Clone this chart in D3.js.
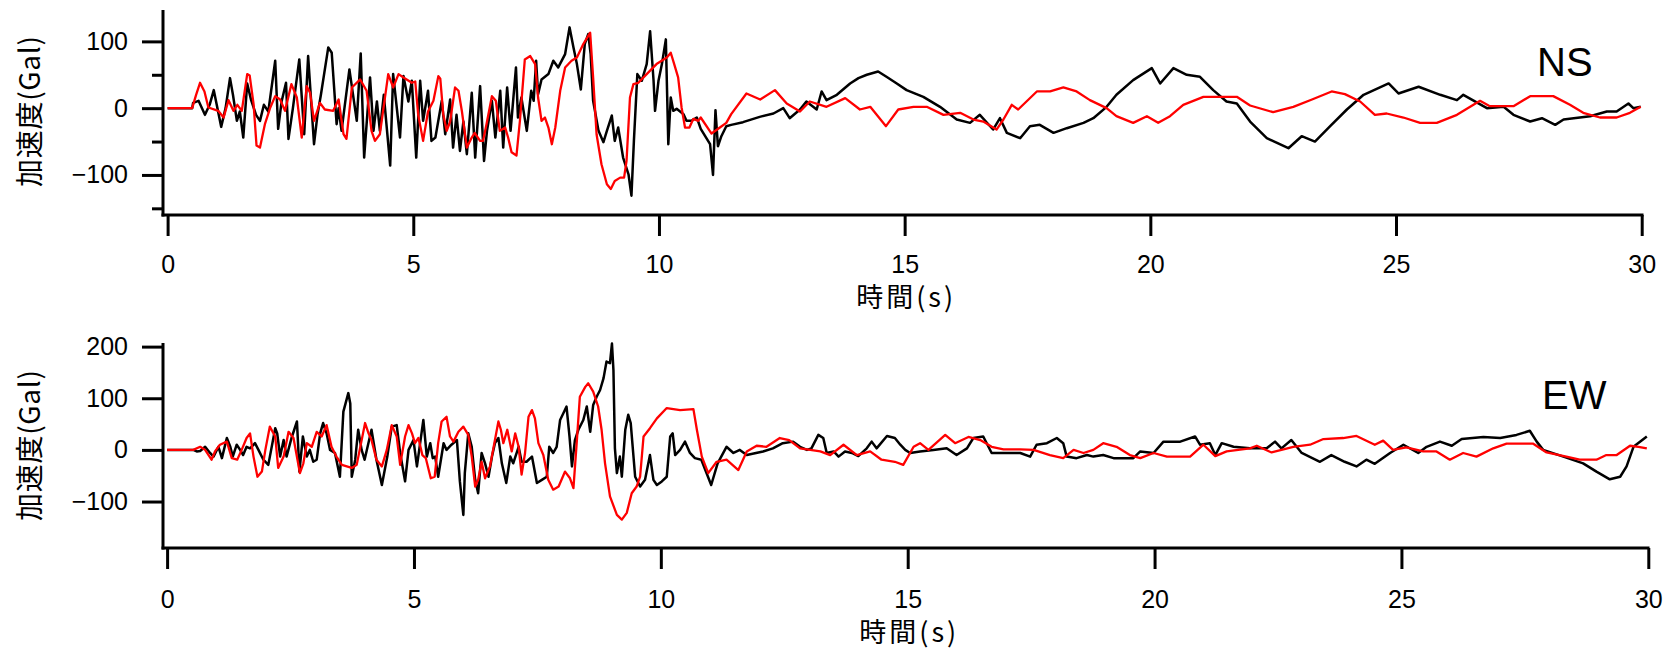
<!DOCTYPE html>
<html lang="ja">
<head>
<meta charset="utf-8">
<title>加速度波形 NS / EW</title>
<script src="https://d3js.org/d3.v7.min.js"></script>
<style>
  body { margin: 0; background: #fff; }
  .tick text { font-family: "Liberation Sans", Arial, sans-serif; font-size: 25px; fill: #000; }
  .jp { font-family: "Noto Sans CJK JP", sans-serif; fill: #000; }
  .comp { font-family: "Liberation Sans", Arial, sans-serif; font-size: 40px; fill: #000; }
</style>
</head>
<body>
<svg width="1670" height="649"></svg>
<script>
// time (s), acceleration (Gal)
const nsBlack = [[0,0],[0.5,0],[0.52,8],[0.63,11],[0.76,-10],[0.86,6],[0.94,27],[1.0,5],[1.09,-28],[1.18,0],[1.27,45],[1.33,20],[1.41,-19],[1.47,-5],[1.54,-44],[1.62,37],[1.7,12],[1.8,-10],[1.88,-19],[1.96,5],[2.05,-5],[2.19,71],[2.25,-31],[2.32,10],[2.41,38],[2.46,-46],[2.55,0],[2.68,73],[2.78,-39],[2.86,78],[2.98,-54],[3.05,-10],[3.12,20],[3.27,91],[3.34,83],[3.44,-24],[3.48,0],[3.54,-34],[3.7,58],[3.85,-19],[3.93,82],[4.0,-74],[4.12,46],[4.19,-34],[4.26,10],[4.32,-34],[4.4,20],[4.53,-86],[4.59,51],[4.73,-44],[4.8,48],[4.9,10],[4.97,41],[5.06,-74],[5.14,41],[5.2,-19],[5.3,26],[5.37,-49],[5.45,-44],[5.58,11],[5.65,-39],[5.75,13],[5.81,-59],[5.88,-10],[5.95,-64],[6.02,-20],[6.09,-69],[6.19,23],[6.26,-74],[6.36,33],[6.44,-79],[6.5,-34],[6.6,11],[6.67,-44],[6.77,26],[6.83,-59],[6.91,31],[6.98,-34],[7.09,61],[7.13,-14],[7.2,16],[7.31,-34],[7.4,26],[7.45,11],[7.5,71],[7.54,21],[7.61,43],[7.75,51],[7.85,71],[7.95,61],[8.09,81],[8.18,121],[8.26,91],[8.33,66],[8.41,28],[8.49,96],[8.56,111],[8.61,81],[8.66,11],[8.77,-34],[8.87,-51],[8.94,-34],[9.04,-11],[9.1,-49],[9.17,-29],[9.27,-74],[9.38,-99],[9.44,-131],[9.49,-49],[9.56,51],[9.65,41],[9.75,66],[9.82,115],[9.89,41],[9.92,-4],[9.99,41],[10.06,66],[10.14,103],[10.19,-54],[10.24,16],[10.29,-4],[10.36,-1],[10.5,-9],[10.56,-19],[10.66,-19],[10.77,-14],[10.85,-31],[11.04,-54],[11.1,-100],[11.15,-3],[11.2,-57],[11.27,-42],[11.37,-27],[11.47,-25],[11.71,-21],[12.05,-13],[12.33,-8],[12.53,0],[12.66,-15],[12.87,-2],[13.0,10],[13.21,-2],[13.31,25],[13.41,12],[13.62,20],[13.89,37],[14.06,45],[14.23,50],[14.46,55],[14.63,47],[14.84,37],[15.04,27],[15.38,17],[15.72,2],[16.06,-17],[16.33,-22],[16.53,-10],[16.8,-32],[16.94,-15],[17.08,-37],[17.35,-45],[17.55,-27],[17.75,-25],[18.03,-37],[18.3,-30],[18.64,-22],[18.84,-15],[19.11,2],[19.31,20],[19.65,42],[20.03,60],[20.2,37],[20.47,60],[20.74,50],[21.01,47],[21.28,27],[21.55,10],[21.76,7],[22.03,-20],[22.37,-45],[22.81,-60],[23.08,-42],[23.35,-50],[23.66,-27],[24.0,-2],[24.34,20],[24.85,37],[25.05,22],[25.46,32],[25.9,20],[26.24,12],[26.37,20],[26.85,0],[27.19,2],[27.39,-10],[27.73,-20],[27.97,-15],[28.24,-25],[28.41,-17],[28.95,-12],[29.29,-5],[29.49,-5],[29.73,7],[29.83,0],[29.98,2]];

const nsRed = [[0,0],[0.5,0],[0.58,20],[0.66,38],[0.75,25],[0.83,1],[1.03,-4],[1.14,-14],[1.24,12],[1.34,-4],[1.42,5],[1.51,-4],[1.62,51],[1.67,49],[1.75,6],[1.81,-56],[1.88,-59],[1.98,-24],[2.09,1],[2.19,18],[2.29,13],[2.39,-4],[2.52,36],[2.63,16],[2.73,-44],[2.83,33],[2.9,23],[2.98,-19],[3.1,8],[3.2,-2],[3.37,-4],[3.48,13],[3.58,-39],[3.64,-46],[3.75,31],[3.92,43],[4.05,26],[4.15,-34],[4.22,-49],[4.32,-39],[4.49,51],[4.59,31],[4.7,51],[4.8,46],[4.97,38],[5.04,40],[5.1,-10],[5.2,-49],[5.3,-5],[5.41,11],[5.51,48],[5.55,44],[5.61,-9],[5.68,-34],[5.75,-20],[5.85,31],[5.92,26],[5.99,-5],[6.09,-59],[6.19,-44],[6.25,-37],[6.36,-49],[6.42,-49],[6.49,-24],[6.6,18],[6.68,11],[6.76,-34],[6.87,-29],[6.93,-44],[7.0,-66],[7.1,-71],[7.17,-19],[7.27,73],[7.38,78],[7.48,66],[7.54,16],[7.61,-19],[7.68,-14],[7.75,-29],[7.82,-54],[7.89,-29],[7.99,26],[8.09,61],[8.22,71],[8.33,76],[8.46,96],[8.6,113],[8.66,46],[8.73,-39],[8.83,-84],[8.94,-114],[9.02,-121],[9.1,-109],[9.21,-104],[9.29,-104],[9.34,-79],[9.41,16],[9.48,36],[9.58,38],[9.75,51],[9.95,66],[10.16,76],[10.24,83],[10.31,66],[10.39,46],[10.46,1],[10.53,-29],[10.62,-29],[10.7,-16],[10.8,-19],[10.85,-14],[11.07,-38],[11.24,-29],[11.37,-22],[11.47,-9],[11.78,22],[12.06,13],[12.36,27],[12.6,7],[12.87,-5],[13.07,10],[13.41,2],[13.79,15],[14.09,-2],[14.3,2],[14.62,-27],[14.87,-2],[15.18,2],[15.45,2],[15.79,-10],[16.13,-7],[16.4,-17],[16.6,-20],[16.87,-32],[17.01,-17],[17.18,5],[17.31,-2],[17.69,25],[17.96,25],[18.23,31],[18.5,25],[18.77,12],[19.11,0],[19.31,-12],[19.65,-22],[19.93,-12],[20.16,-22],[20.4,-12],[20.67,5],[21.08,17],[21.49,17],[21.76,17],[22.03,4],[22.5,-6],[22.91,2],[23.29,13],[23.69,25],[23.96,21],[24.27,10],[24.57,-10],[24.81,-8],[25.15,-14],[25.49,-22],[25.83,-22],[26.24,-10],[26.71,11],[26.91,3],[27.39,3],[27.73,18],[28.2,18],[28.54,5],[28.81,-7],[29.15,-14],[29.49,-14],[29.76,-7],[29.98,2]];

const ewBlack = [[0,0],[0.53,0],[0.6,-3],[0.67,-2],[0.77,6],[0.87,-6],[0.94,-13],[1.04,6],[1.11,-16],[1.21,23],[1.28,6],[1.33,-13],[1.41,10],[1.48,0],[1.54,-10],[1.61,6],[1.68,3],[1.78,13],[1.85,0],[1.95,-19],[2.05,-29],[2.19,42],[2.23,32],[2.29,-13],[2.36,19],[2.42,-13],[2.52,23],[2.63,55],[2.68,-42],[2.75,26],[2.83,-13],[2.89,0],[2.96,-23],[3.03,-19],[3.1,32],[3.16,52],[3.23,32],[3.3,0],[3.4,-6],[3.5,-52],[3.57,74],[3.67,110],[3.71,90],[3.74,-52],[3.81,-19],[3.87,39],[3.94,0],[4.0,-19],[4.14,39],[4.24,-19],[4.35,-68],[4.46,-13],[4.55,45],[4.65,48],[4.72,-6],[4.82,-61],[4.89,0],[4.99,19],[5.06,-32],[5.19,58],[5.26,-13],[5.33,13],[5.38,-16],[5.43,-13],[5.49,-52],[5.6,13],[5.66,0],[5.76,10],[5.87,19],[5.93,-61],[6.0,-126],[6.03,-45],[6.1,32],[6.17,6],[6.24,-58],[6.3,-84],[6.37,-6],[6.44,-26],[6.51,-52],[6.58,-13],[6.64,13],[6.71,23],[6.78,-26],[6.87,-64],[6.95,-13],[7.01,-26],[7.12,6],[7.18,-23],[7.28,-23],[7.39,-13],[7.49,-64],[7.59,-58],[7.69,-52],[7.74,6],[7.82,-6],[7.89,6],[7.96,58],[8.04,74],[8.09,84],[8.15,26],[8.2,-32],[8.26,19],[8.33,39],[8.43,58],[8.5,84],[8.57,35],[8.63,87],[8.7,103],[8.77,116],[8.84,139],[8.9,171],[8.97,168],[9.01,206],[9.04,155],[9.07,3],[9.11,-45],[9.17,-13],[9.21,-52],[9.28,39],[9.34,68],[9.39,52],[9.48,-52],[9.58,-71],[9.68,-58],[9.78,-10],[9.85,-58],[9.92,-68],[10.02,-61],[10.12,-52],[10.19,26],[10.24,32],[10.29,-10],[10.39,0],[10.49,16],[10.59,-6],[10.69,-16],[10.82,-19],[11.02,-68],[11.15,-26],[11.33,6],[11.47,-6],[11.6,0],[11.74,-10],[12.07,-3],[12.27,3],[12.47,13],[12.68,16],[12.82,6],[12.96,0],[13.05,3],[13.19,29],[13.29,23],[13.36,-6],[13.5,-3],[13.6,-13],[13.73,-3],[13.87,-6],[14.0,-12],[14.17,3],[14.27,16],[14.37,3],[14.58,27],[14.74,23],[14.85,10],[14.95,0],[15.05,-6],[15.25,-3],[15.52,0],[15.79,3],[15.99,-10],[16.2,3],[16.33,23],[16.53,26],[16.7,-6],[17.0,-6],[17.28,-6],[17.48,-13],[17.61,10],[17.82,13],[18.02,23],[18.15,13],[18.22,-13],[18.42,-16],[18.63,-10],[18.76,-13],[18.96,-10],[19.17,-16],[19.57,-16],[19.71,-3],[19.98,-6],[20.18,16],[20.52,16],[20.82,26],[20.92,10],[21.12,13],[21.23,-10],[21.36,13],[21.6,6],[21.93,3],[22.27,3],[22.44,16],[22.57,3],[22.77,19],[22.98,-6],[23.35,-23],[23.58,-10],[23.85,-23],[24.09,-32],[24.29,-19],[24.46,-27],[24.77,-6],[25.04,10],[25.34,-6],[25.51,6],[25.78,16],[26.02,8],[26.22,21],[26.66,25],[27.0,23],[27.33,29],[27.6,37],[27.74,16],[27.87,0],[28.28,-13],[28.68,-26],[28.95,-42],[29.22,-57],[29.43,-52],[29.56,-32],[29.7,6],[29.97,26]];

const ewRed = [[0,0],[0.53,0],[0.67,6],[0.77,0],[0.9,-19],[0.97,-3],[1.07,10],[1.21,16],[1.31,-16],[1.42,-19],[1.51,0],[1.61,23],[1.68,32],[1.75,-13],[1.83,-52],[1.92,-42],[1.99,0],[2.08,45],[2.19,26],[2.25,-35],[2.36,-13],[2.46,35],[2.56,23],[2.69,-45],[2.76,-26],[2.83,13],[2.93,6],[3.03,35],[3.13,26],[3.23,48],[3.33,6],[3.43,-13],[3.54,-29],[3.64,-32],[3.74,-35],[3.84,-29],[4.01,52],[4.08,32],[4.14,19],[4.24,-19],[4.35,-32],[4.45,0],[4.55,48],[4.65,26],[4.72,-29],[4.82,26],[4.89,48],[4.96,32],[5.02,13],[5.09,23],[5.17,-10],[5.24,-16],[5.34,-55],[5.42,-52],[5.49,13],[5.56,55],[5.66,64],[5.73,26],[5.8,16],[5.9,35],[6.0,45],[6.1,29],[6.17,-13],[6.24,-71],[6.3,-58],[6.37,-23],[6.44,-55],[6.54,-32],[6.64,19],[6.71,55],[6.76,39],[6.81,13],[6.89,39],[6.98,-3],[7.05,32],[7.12,6],[7.18,-48],[7.25,-6],[7.32,64],[7.39,77],[7.45,61],[7.52,13],[7.62,-10],[7.72,-58],[7.82,-77],[7.93,-71],[8.06,-42],[8.16,-55],[8.23,-74],[8.3,19],[8.36,103],[8.47,122],[8.53,129],[8.63,113],[8.73,84],[8.8,39],[8.87,-26],[8.97,-90],[9.11,-126],[9.21,-135],[9.31,-122],[9.41,-84],[9.51,-71],[9.58,-52],[9.65,26],[9.78,42],[9.92,61],[10.12,81],[10.39,77],[10.66,79],[10.73,39],[10.83,-13],[10.96,-45],[11.13,-23],[11.33,-19],[11.57,-39],[11.74,-3],[11.94,8],[12.14,6],[12.41,23],[12.6,19],[12.82,3],[13.23,-3],[13.43,-10],[13.7,10],[13.97,-10],[14.24,-3],[14.47,-19],[14.74,-23],[14.91,-29],[15.12,6],[15.25,13],[15.42,0],[15.76,29],[15.96,13],[16.23,25],[16.47,19],[16.7,6],[16.94,1],[17.28,1],[17.55,0],[17.88,-10],[18.15,-16],[18.36,0],[18.56,-6],[18.76,0],[18.96,13],[19.23,6],[19.5,-10],[19.71,-16],[19.98,-6],[20.25,-13],[20.72,-13],[20.99,10],[21.23,-12],[21.46,-3],[21.93,3],[22.07,8],[22.37,-5],[22.81,6],[23.15,10],[23.42,21],[23.82,23],[24.09,27],[24.46,10],[24.63,18],[24.83,0],[25.1,5],[25.44,-3],[25.71,-3],[25.98,-19],[26.25,-6],[26.52,-13],[26.86,3],[27.13,12],[27.67,12],[27.94,-5],[28.34,-13],[28.61,-19],[28.95,-19],[29.15,-10],[29.36,-10],[29.63,8],[29.8,6],[29.97,3]];

const xTicks = [0, 5, 10, 15, 20, 25, 30];
const nsTicks = [-100, 0, 100];
const nsMinor = [-150, -50, 50];
const ewTicks = [-100, 0, 100, 200];
const ewMinor = [];

const yTitle = '加速度(Gal)';
const xTitle = '時間(s)';

const svg = d3.select('svg');

// layout of the two panels
const panels = [
  { name: 'NS', black: nsBlack, red: nsRed, ticks: nsTicks, minor: nsMinor,
    yDomain: [-157, 147], xRange: [167.6, 1641.7], yRange: [213, 10],
    axisX: 163, axisY: 215, xEnd: 1642, tickPad: 19, titleY: 307, nameX: 1537, nameY: 76 },
  { name: 'EW', black: ewBlack, red: ewRed, ticks: ewTicks, minor: ewMinor,
    yDomain: [-190, 207], xRange: [167.1, 1648.3], yRange: [548, 343],
    axisX: 163, axisY: 548, xEnd: 1648, tickPad: 21, titleY: 642, nameX: 1542, nameY: 409 }
];

panels.forEach(p => {
  const x = d3.scaleLinear().domain([0, 30]).range(p.xRange);
  const y = d3.scaleLinear().domain(p.yDomain).range(p.yRange);
  const g = svg.append('g');

  const line = d3.line().x(d => x(d[0])).y(d => y(d[1]));

  g.append('path').datum(p.black)
    .attr('d', line).attr('fill', 'none')
    .attr('stroke', '#000').attr('stroke-width', 2.5).attr('stroke-linejoin', 'round');
  g.append('path').datum(p.red)
    .attr('d', line).attr('fill', 'none')
    .attr('stroke', '#ff0000').attr('stroke-width', 2.3).attr('stroke-linejoin', 'round');

  // y axis
  const yAxis = g.append('g')
    .attr('transform', `translate(${p.axisX},0)`)
    .call(d3.axisLeft(y).tickValues(p.ticks).tickSize(21).tickPadding(14).tickFormat(d3.format('d')));
  yAxis.select('.domain').remove();
  yAxis.selectAll('.tick line').attr('stroke-width', 3);

  if (p.minor.length) {
    const yMinor = g.append('g')
      .attr('transform', `translate(${p.axisX},0)`)
      .call(d3.axisLeft(y).tickValues(p.minor).tickSize(11).tickFormat(''));
    yMinor.select('.domain').remove();
    yMinor.selectAll('.tick line').attr('stroke-width', 3);
  }

  g.append('line')
    .attr('x1', p.axisX).attr('x2', p.axisX)
    .attr('y1', p.yRange[1]).attr('y2', p.axisY + 1.5)
    .attr('stroke', '#000').attr('stroke-width', 3);

  // x axis
  const xAxis = g.append('g')
    .attr('transform', `translate(0,${p.axisY})`)
    .call(d3.axisBottom(x).tickValues(xTicks).tickSize(21).tickPadding(p.tickPad));
  xAxis.select('.domain').remove();
  xAxis.selectAll('.tick line').attr('stroke-width', 3);

  g.append('line')
    .attr('x1', p.axisX - 1.5).attr('x2', p.xEnd + 1.5)
    .attr('y1', p.axisY).attr('y2', p.axisY)
    .attr('stroke', '#000').attr('stroke-width', 3);

  // titles
  g.append('text').attr('class', 'jp')
    .attr('transform', `translate(40,${(p.yRange[0] + p.yRange[1]) / 2}) rotate(-90)`)
    .attr('text-anchor', 'middle')
    .attr('textLength', 151).attr('lengthAdjust', 'spacing')
    .style('font-size', '28px')
    .text(yTitle);

  g.append('text').attr('class', 'jp')
    .attr('x', x(15)).attr('y', p.titleY)
    .attr('text-anchor', 'middle')
    .attr('textLength', 97).attr('lengthAdjust', 'spacing')
    .style('font-size', '27px')
    .text(xTitle);

  g.append('text').attr('class', 'comp')
    .attr('x', p.nameX).attr('y', p.nameY)
    .text(p.name);
});
</script>
</body>
</html>
